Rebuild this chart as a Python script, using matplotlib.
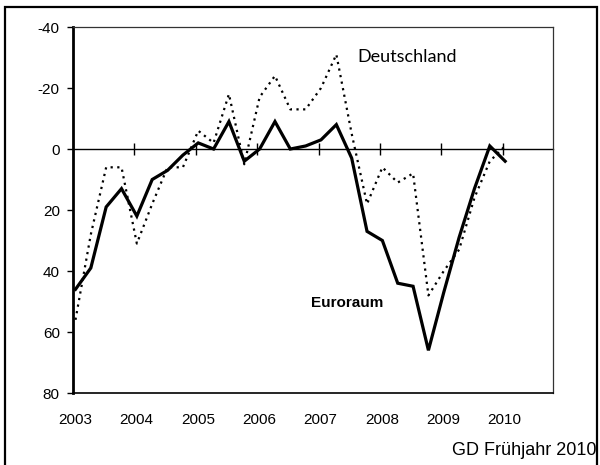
import numpy as np
import matplotlib
matplotlib.use("Agg")
import matplotlib.pyplot as plt
import matplotlib.transforms as mtransforms
from matplotlib.patches import Rectangle

plt.rcParams['axes.unicode_minus'] = False
plt.rcParams['font.family'] = ['Liberation Sans', 'DejaVu Sans']

# quarterly data, 2003Q1 .. 2010Q1
years = [2003, 2004, 2005, 2006, 2007, 2008, 2009, 2010]
quarters = ["%dQ%d" % (y, q) for y in range(2003, 2011) for q in range(1, 5)][:29]
euroraum = [46, 39, 19, 13, 22, 10, 7, 2, -2, 0, -9, 4, 0, -9, 0, -1,
            -3, -8, 3, 27, 30, 44, 45, 66, 47, 29, 13, -1, 4]
deutschland = [56, 28, 6, 6, 31, 18, 6, 6, -6, -2, -18, 5, -17, -24, -13, -13,
               -20, -31, -5, 18, 6, 11, 8, 48, 40, 33, 16, 4, -1]
yticks = [-40, -20, 0, 20, 40, 60, 80]

# position of each quarter on a continuous year axis
x = np.array([int(s[:4]) + (int(s[-1]) - 1) * 0.25 + 0.04 for s in quarters])

fig = plt.figure(figsize=(6, 4.65), dpi=100)
ax = fig.add_axes([0.1217, 0.1548, 0.8, 0.7871])

ax.plot(x, deutschland, color='black', lw=1.6, linestyle=(0, (1, 2)))
ax.plot(x, euroraum, color='black', lw=2.3, solid_joinstyle='miter')

ax.set_xlim(2003, 2010.82)
ax.set_ylim(80, -40)
ax.set_yticks(yticks)
ax.set_yticklabels([str(v) for v in yticks])
ax.tick_params(axis='y', direction='out', length=4, width=1, pad=5.5, labelsize=11)

ax.set_xticks(years)
ax.set_xticklabels([str(y) for y in years])
ax.tick_params(axis='x', length=0, pad=14.5, labelsize=11)
offset = mtransforms.ScaledTranslation(2 / 100, 0, fig.dpi_scale_trans)
for lab in ax.get_xticklabels():
    lab.set_transform(lab.get_transform() + offset)

# zero line with crossing year ticks
zero_frac = 80 / 120
sec = ax.secondary_xaxis(zero_frac)
sec.set_xticks(years[1:])
sec.tick_params(direction='inout', length=8, width=1, labeltop=False, labelbottom=False)
sec.spines['top'].set_linewidth(1)

ax.spines['left'].set_linewidth(2)
ax.spines['bottom'].set_linewidth(1.2)
ax.spines['top'].set_linewidth(0.9)
ax.spines['right'].set_linewidth(0.9)
ax.spines['top'].set_color('#333333')
ax.spines['right'].set_color('#333333')

ax.text(2007.64, -30.1, 'Deutschland', fontsize=13, family=['Lato', 'DejaVu Sans'],
        ha='left', va='center')
ax.text(2006.87, 50.6, 'Euroraum', fontsize=11, fontweight='bold', ha='left', va='center')

fig.text(0.995, 0.032, 'GD Frühjahr 2010', fontsize=13, ha='right', va='center')

fig.patches.append(Rectangle((5 / 600, -0.02), 592 / 600, 1.02 - 7 / 465,
                             transform=fig.transFigure, fill=False,
                             edgecolor='black', lw=1.6))

fig.savefig('out.png', dpi=100)
